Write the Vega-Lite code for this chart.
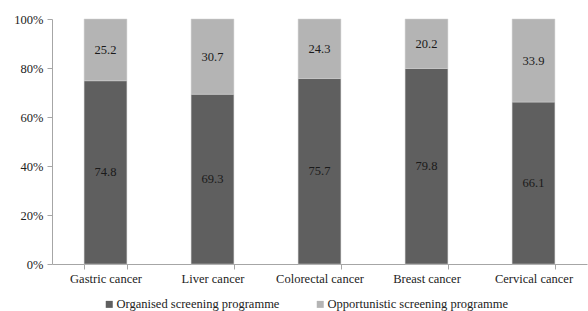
{
  "$schema": "https://vega.github.io/schema/vega-lite/v6.json",
  "width": 535,
  "height": 245,
  "autosize": "none",
  "padding": {"left": 52, "top": 19, "right": 1, "bottom": 47},
  "background": "white",
  "config": {
    "view": {"stroke": null},
    "font": "Liberation Serif"
  },
  "data": {
    "values": [
      {"cancer": "Gastric cancer", "type": "Organised screening programme", "value": 74.8, "o": 1},
      {"cancer": "Gastric cancer", "type": "Opportunistic screening programme", "value": 25.2, "o": 2},
      {"cancer": "Liver cancer", "type": "Organised screening programme", "value": 69.3, "o": 1},
      {"cancer": "Liver cancer", "type": "Opportunistic screening programme", "value": 30.7, "o": 2},
      {"cancer": "Colorectal cancer", "type": "Organised screening programme", "value": 75.7, "o": 1},
      {"cancer": "Colorectal cancer", "type": "Opportunistic screening programme", "value": 24.3, "o": 2},
      {"cancer": "Breast cancer", "type": "Organised screening programme", "value": 79.8, "o": 1},
      {"cancer": "Breast cancer", "type": "Opportunistic screening programme", "value": 20.2, "o": 2},
      {"cancer": "Cervical cancer", "type": "Organised screening programme", "value": 66.1, "o": 1},
      {"cancer": "Cervical cancer", "type": "Opportunistic screening programme", "value": 33.9, "o": 2}
    ]
  },
  "transform": [
    {"stack": "value", "groupby": ["cancer"], "sort": [{"field": "o"}], "offset": "normalize", "as": ["v0", "v1"]},
    {"calculate": "(datum.v0 + datum.v1) / 2", "as": "vmid"}
  ],
  "encoding": {
    "x": {
      "field": "cancer", "type": "nominal", "sort": null,
      "scale": {"paddingInner": 0.6, "paddingOuter": 0.3},
      "axis": {
        "title": null, "labelAngle": 0, "labelFontSize": 12.5, "labelColor": "#222",
        "domainColor": "#a6a6a6", "tickColor": "#a6a6a6", "tickBand": "extent",
        "tickSize": 5, "labelPadding": 3
      }
    }
  },
  "layer": [
    {
      "mark": {"type": "bar", "stroke": "#d0d0d0", "strokeWidth": 0.5},
      "encoding": {
        "y": {
          "field": "v0", "type": "quantitative",
          "scale": {"domain": [0, 1]},
          "axis": {
            "title": null, "format": ".0%", "values": [0, 0.2, 0.4, 0.6, 0.8, 1],
            "grid": false, "labelFontSize": 12.5, "labelColor": "#222", "labelOverlap": false, "labelFlush": false,
            "domainColor": "#a6a6a6", "tickColor": "#a6a6a6", "tickSize": 5, "labelPadding": 4
          }
        },
        "y2": {"field": "v1"},
        "color": {
          "field": "type", "type": "nominal",
          "scale": {
            "domain": ["Organised screening programme", "Opportunistic screening programme"],
            "range": ["#5f5f5f", "#b4b4b4"]
          },
          "legend": {
            "title": null, "orient": "none", "direction": "horizontal",
            "legendX": 51, "legendY": 279, "columns": 2, "columnPadding": 34,
            "symbolType": "square", "symbolSize": 49, "symbolStrokeWidth": 0,
            "labelFontSize": 12.5, "labelColor": "#222", "labelOffset": 1, "labelLimit": 0
          }
        }
      }
    },
    {
      "mark": {"type": "text", "fontSize": 12.5, "color": "#1a1a1a"},
      "encoding": {
        "y": {"field": "vmid", "type": "quantitative"},
        "text": {"field": "value", "type": "quantitative", "format": ".1f"}
      }
    }
  ]
}
